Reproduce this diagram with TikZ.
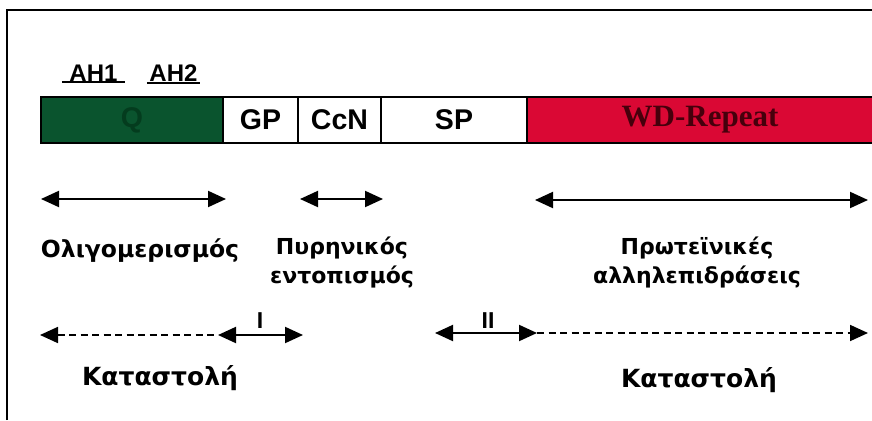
\documentclass[tikz,border=0pt]{standalone}
\usepackage{fontspec}
\setmainfont{Liberation Sans}
\newfontfamily\grfont{DejaVu Sans}
\newfontfamily\wdfont{Liberation Serif}
\usetikzlibrary{arrows.meta}

\definecolor{qgreen}{RGB}{10,84,46}
\definecolor{qtext}{RGB}{4,60,30}
\definecolor{wdred}{RGB}{218,8,52}
\definecolor{wdtext}{RGB}{70,0,12}

\tikzset{
	dom/.style={draw=black, line width=1.2pt, minimum height=46pt, inner sep=0pt,
		font=\fontsize{28.5}{28.5}\selectfont\bfseries},
	motif/.style={font=\fontsize{24}{24}\selectfont\bfseries, inner sep=1pt},
	span/.style={line width=2pt, {Triangle[length=18pt,width=16pt]}-{Triangle[length=18pt,width=16pt]}},
	rep/.style={line width=1.8pt, dash pattern=on 7pt off 4.5pt},
	lbl/.style={font=\grfont\fontsize{22}{29}\selectfont\bfseries, align=center},
	roman/.style={font=\fontsize{23}{23}\selectfont\bfseries},
}

\begin{document}
\begin{tikzpicture}[x=1pt,y=-1pt]
		\useasboundingbox (0,0) rectangle (872,420);
		\clip (0,0) rectangle (872,420);
		% frame
		\draw [line width=1.2pt] (7,420) -- (7,10) -- (872,10);

		% domains
		\node [dom, fill=qgreen, minimum width=182pt, text=qtext] (q) at (132,120) {Q};
		\node [dom, fill=white, minimum width=75pt] (gp) at (260.5,120) {GP};
		\node [dom, fill=white, minimum width=83pt] (ccn) at (339.5,120) {CcN};
		\node [dom, fill=white, minimum width=146pt] (sp) at (454,120) {SP};
		\node [dom, fill=wdred, minimum width=353pt] (wd) at (703.5,120) {};
		\node [text=wdtext, font=\wdfont\fontsize{31}{31}\selectfont\bfseries] (wdl) at (700,120) {WD-Repeat};

		% AH1, AH2
		\node [motif, minimum width=63pt] (ah1) at (93.5,73) {AH1};
		\node [motif, minimum width=53pt] (ah2) at (173.5,73) {AH2};
		\draw [line width=2pt] (ah1.south west) -- (ah1.south east);
		\draw [line width=2pt] (ah2.south west) -- (ah2.south east);

		% <-> first row
		\coordinate (o1) at (41,199);
		\coordinate (o2) at (226,199);
		\coordinate (n1) at (300,199);
		\coordinate (n2) at (383,199);
		\coordinate (p1) at (535,200);
		\coordinate (p2) at (868,200);
		\draw [span] (o1) -- (o2);
		\draw [span] (n1) -- (n2);
		\draw [span] (p1) -- (p2);
		% label
		\node [lbl, font=\grfont\fontsize{23.5}{29}\selectfont\bfseries] (olig) at (140,251) {Ολιγομερισμός};
		\node [lbl] (nuc) at (342,262) {Πυρηνικός\\εντοπισμός};
		\node [lbl] (prot) at (697,262) {Πρωτεϊνικές\\αλληλεπιδράσεις};

		% repression
		\coordinate (r1) at (40,335);
		\coordinate (r2) at (218,335);
		\coordinate (r3) at (303,335);
		\draw [rep, {Triangle[length=18pt,width=16pt]}-] (r1) -- (r2);
		\draw [span] (r2) -- (r3);
		\node [roman] (one) at (260,321) {I};

		\coordinate (s1) at (435,333);
		\coordinate (s2) at (537,333);
		\coordinate (s3) at (868,333);
		\draw [span] (s1) -- (s2);
		\draw [rep, -{Triangle[length=18pt,width=16pt]}] (s2) -- (s3);
		\node [roman] (two) at (488,321) {II};
		% label
		\node [lbl, font=\grfont\fontsize{25}{29}\selectfont\bfseries] (rep1) at (160,378) {Καταστολή};
		\node [lbl, font=\grfont\fontsize{25}{29}\selectfont\bfseries] (rep2) at (699,380) {Καταστολή};
\end{tikzpicture}
\end{document}
